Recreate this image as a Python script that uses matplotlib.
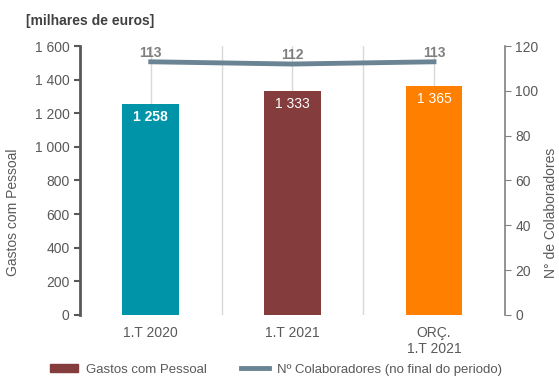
import numpy as np
import matplotlib.pyplot as plt
from matplotlib.patches import Patch
from matplotlib.lines import Line2D

plt.rcParams['font.family'] = ['Liberation Sans', 'DejaVu Sans']

categories = ["1.T 2020", "1.T 2021", "ORÇ.\n1.T 2021"]
gastos = [1258, 1333, 1365]
colaboradores = [113, 112, 113]
bar_colors = ["#0094A8", "#843C3C", "#FF8000"]
line_color = "#6A8494"
text_color = "#595959"

fig = plt.figure(figsize=(5.59, 3.78), dpi=100)
ax = fig.add_axes([0.143, 0.167, 0.76, 0.711])
x = np.arange(len(categories))

# vertical grid at category centres and boundaries
for g in np.arange(-0.5, len(categories), 0.5)[1:-1]:
    ax.axvline(g, color="#D9D9D9", lw=1, zorder=0)

bars = ax.bar(x, gastos, width=0.4, color=bar_colors, zorder=2)
for i, (b, v) in enumerate(zip(bars, gastos)):
    txt = f"{v:,}".replace(",", " ")
    ax.text(b.get_x() + b.get_width() / 2, v - 80, txt, ha="center", va="center",
            color="white", fontsize=10, fontweight="bold" if i == 0 else "normal")

ax.set_xlim(-0.5, len(categories) - 0.5)
ax.set_ylim(0, 1600)
ax.set_yticks(np.arange(0, 1601, 200))
ax.set_yticklabels([f"{t:,}".replace(",", " ") for t in range(0, 1601, 200)])
ax.set_xticks(x)
ax.set_xticklabels(categories)
ax.tick_params(axis="x", length=0, labelsize=10, colors=text_color, pad=8)
ax.tick_params(axis="y", direction="out", length=4, width=1.5, color="#595959",
               labelsize=10, labelcolor=text_color)
for s in ["top", "right", "bottom"]:
    ax.spines[s].set_visible(False)
ax.spines["left"].set_color("#595959")
ax.spines["left"].set_linewidth(2)
ax.set_ylabel("Gastos com Pessoal", fontsize=10, color=text_color)
ax.yaxis.set_label_coords(-0.141, 0.38)

ax2 = ax.twinx()
ax2.plot(x, colaboradores, color=line_color, lw=3.5, zorder=3)
for xi, v in zip(x, colaboradores):
    ax2.text(xi, v + 4.0, str(v), ha="center", va="center", color="#7F7F7F",
             fontsize=10, fontweight="bold")
ax2.set_ylim(0, 120)
ax2.set_yticks(np.arange(0, 121, 20))
for s in ["top", "left", "bottom"]:
    ax2.spines[s].set_visible(False)
ax2.spines["right"].set_color("#808080")
ax2.spines["right"].set_linewidth(1.2)
ax2.tick_params(axis="y", direction="out", length=4, color="#808080",
                labelsize=10, labelcolor=text_color)
ax2.set_ylabel("N° de Colaboradores", fontsize=10, color=text_color)
ax2.yaxis.set_label_coords(1.092, 0.38)

fig.text(0.047, 0.945, "[milhares de euros]", fontsize=10, fontweight="bold",
         color="#404040", va="center")

handles = [Patch(color="#843C3C", label="Gastos com Pessoal"),
           Line2D([0], [0], color=line_color, lw=3.5,
                  label="Nº Colaboradores (no final do periodo)")]
fig.legend(handles=handles, loc="center", bbox_to_anchor=(0.494, 0.022),
           ncol=2, frameon=False, fontsize=9.5, labelcolor=text_color,
           handlelength=2.1, handleheight=0.6, columnspacing=2.6,
           handletextpad=0.6)

fig.savefig("out.png", dpi=100)
